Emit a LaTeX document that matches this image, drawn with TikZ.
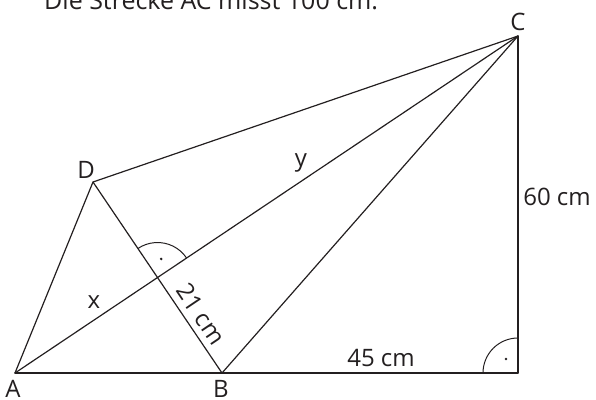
\documentclass[tikz,border=0pt]{standalone}
\usepackage{fontspec}
\setmainfont{Open Sans}
\definecolor{ink}{HTML}{231F20}
\begin{document}
\begin{tikzpicture}[x=1pt,y=-1pt,
  edge/.style={draw=ink,line width=1.2pt,line cap=round,line join=round},
  lbl/.style={text=ink,font=\fontsize{24}{27}\selectfont,inner sep=0pt,anchor=base},
  anglemark/.style={draw=ink,line width=1pt}]
\useasboundingbox (0,0) rectangle (596,399);
% points
\coordinate (A) at (15,373);
\coordinate (B) at (222,373);
\coordinate (E) at (518,373);
\coordinate (C) at (518,36);
\coordinate (D) at (93,182);
\coordinate (P) at (157.5,277.5);
% title
\node[lbl,anchor=base west,font=\fontsize{25}{28}\selectfont] (title) at (44,9) {Die Strecke AC misst 100 cm.};
% lines
\draw[edge] (A) -- (B);
\draw[edge] (B) -- (E);
\draw[edge] (E) -- (C);
\draw[edge] (A) -- (C);
\draw[edge] (A) -- (D);
\draw[edge] (D) -- (C);
\draw[edge] (D) -- (B);
\draw[edge] (B) -- (C);
% right angle marks
\draw[anglemark] ([xshift=-35pt]E) arc[start angle=180,end angle=270,radius=35];
\fill[ink] ([shift={(-12,-14)}]E) circle (1.4pt);
\draw[anglemark] ([shift={(-33.8:35)}]P) arc[start angle=-33.8,end angle=-124,radius=35];
\fill[ink] ([shift={(3.7,-18.6)}]P) circle (1.4pt);
% labels
\node[lbl] (lC) at (518,30) {C};
\node[lbl] (lD) at (86,178) {D};
\node[lbl] (lA) at (13,397) {A};
\node[lbl] (lB) at (221,397) {B};
\node[lbl] (l60) at (557,205) {60 cm};
\node[lbl] (l45) at (381,366) {45 cm};
\node[lbl] (lx) at (94,308) {x};
\node[lbl] (ly) at (301,166) {y};
\node[lbl,anchor=center,rotate=-56] (l21) at (201,314) {21 cm};
\end{tikzpicture}
\end{document}
